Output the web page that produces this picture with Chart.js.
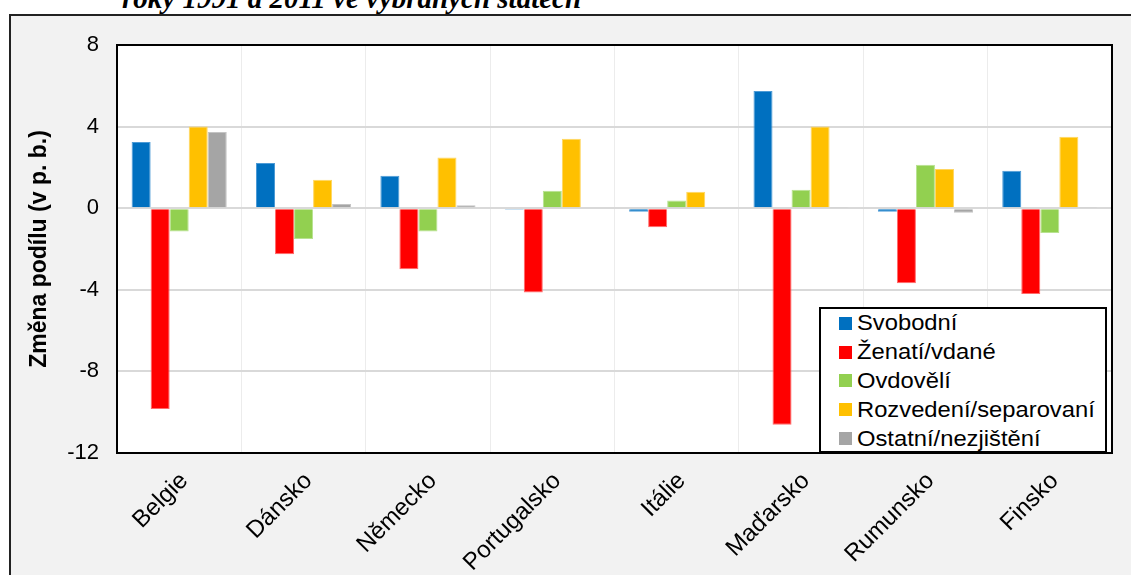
<!DOCTYPE html>
<html>
<head>
<meta charset="utf-8">
<script src="https://cdn.jsdelivr.net/npm/chart.js@4/dist/chart.umd.min.js"></script>
<style>
  body { margin: 0; background: #fff; overflow: hidden; width: 1131px; height: 575px; position: relative; font-family: Arial, "Liberation Sans", sans-serif; }
  #frame { position: absolute; left: 9px; top: 14px; width: 1300px; height: 800px; border: 2px solid #222; background: #f2f2f2; }
  #topTitle { position: absolute; left: 122px; top: -16px; font: italic bold 29px "Liberation Serif", "Times New Roman", serif; line-height: 29px; white-space: nowrap; color: #000; }
  #chartBox { position: absolute; left: 0; top: 0; width: 1131px; height: 575px; }
  #legend { position: absolute; left: 819px; top: 307px; width: 288px; height: 146px; box-sizing: border-box; border: 2px solid #000; background: #fff; padding: 0 0 0 18px; }
  .item { height: 28.8px; display: flex; align-items: center; font-size: 22px; color: #000; white-space: nowrap; }
  .sw { width: 13px; height: 13px; margin-right: 5px; flex: none; }
  .txt { display: inline-block; transform: scaleX(1.08); transform-origin: left center; }
</style>
</head>
<body>
<div id="frame"></div>
<div id="topTitle">roky 1991 a 2011 ve vybraných státech</div>
<div id="chartBox"><canvas id="graph" width="1131" height="575"></canvas></div>
<div id="legend"></div>
<script>
var countries = ["Belgie", "Dánsko", "Německo", "Portugalsko", "Itálie", "Maďarsko", "Rumunsko", "Finsko"];
var seriesNames = ["Svobodní", "Ženatí/vdané", "Ovdovělí", "Rozvedení/separovaní", "Ostatní/nezjištění"];
var svobodni = [3.25, 2.21, 1.59, -0.08, -0.18, 5.74, -0.18, 1.83];
var zenati = [-9.84, -2.26, -2.99, -4.13, -0.93, -10.62, -3.68, -4.2];
var ovdoveli = [-1.14, -1.51, -1.14, 0.86, 0.38, 0.91, 2.13, -1.21];
var rozvedeni = [4.0, 1.40, 2.49, 3.41, 0.81, 4.01, 1.92, 3.5];
var ostatni = [3.74, 0.21, 0.15, 0.0, 0.0, 0.03, -0.22, 0.06];
var yTicks = [8, 4, 0, -4, -8, -12];

var barColors = ["#0070c0", "#ff0000", "#92d050", "#ffc000", "#a5a5a5"];
var edgeColors = ["#4d9bd6", "#ff6b6b", "#b8e290", "#ffd660", "#c4c4c4"];
var allValues = [svobodni, zenati, ovdoveli, rozvedeni, ostatni];

// legend built from the series
var legendHtml = "";
for (let i = 0; i < seriesNames.length; i++) {
    legendHtml += '<div class="item"><span class="sw" style="background:' + barColors[i] + '"></span><span class="txt">' + seriesNames[i] + '</span></div>';
}
document.getElementById("legend").innerHTML = legendHtml;

var datasets = [];
for (let i = 0; i < seriesNames.length; i++) {
    datasets.push({
        label: seriesNames[i],
        data: allValues[i],
        backgroundColor: barColors[i],
        borderColor: edgeColors[i],
        borderWidth: 1,
        categoryPercentage: 0.765,
        barPercentage: 1.0
    });
}

// white plot area with black frame
var plotFrame = {
    id: "plotFrame",
    beforeDraw: function(chart) {
        var a = chart.chartArea, ctx = chart.ctx;
        ctx.save();
        ctx.fillStyle = "#fff";
        ctx.fillRect(a.left, a.top, a.right - a.left, a.bottom - a.top);
        ctx.restore();
    },
    afterDraw: function(chart) {
        var a = chart.chartArea, ctx = chart.ctx;
        ctx.save();
        ctx.strokeStyle = "#000";
        ctx.lineWidth = 2;
        ctx.strokeRect(a.left, a.top, a.right - a.left, a.bottom - a.top);
        ctx.restore();
    }
};

var elem = document.getElementById("graph").getContext("2d");
const newChart = new Chart(elem, {
    type: "bar",
    data: {
        labels: countries,
        datasets: datasets
    },
    options: {
        responsive: false,
        animation: false,
        devicePixelRatio: 1,
        layout: { padding: { top: 45, right: 19, left: 0, bottom: 0 } },
        plugins: {
            legend: { display: false },
            tooltip: { enabled: false }
        },
        scales: {
            x: {
                afterFit: function(s) { s.height = 122; },
                grid: { color: "#ececec", lineWidth: 1, drawTicks: false },
                border: { display: false },
                ticks: {
                    color: "#000",
                    font: { family: "Arial, 'Liberation Sans'", size: 24 },
                    maxRotation: 45,
                    minRotation: 45,
                    padding: 14,
                    labelOffset: 5
                }
            },
            y: {
                min: -12,
                max: 8,
                afterFit: function(s) { s.width = 117; },
                afterBuildTicks: function(s) { s.ticks = yTicks.map(function(v) { return { value: v }; }); },
                grid: { color: "#d9d9d9", lineWidth: 2, drawTicks: false },
                border: { display: false },
                ticks: {
                    color: "#000",
                    font: { family: "Arial, 'Liberation Sans'", size: 22 },
                    padding: 18
                },
                title: {
                    display: true,
                    text: "Změna podílu (v p. b.)",
                    color: "#000",
                    font: { family: "Arial, 'Liberation Sans'", size: 23, weight: "bold" },
                    padding: { top: 26, bottom: 0 }
                }
            }
        }
    },
    plugins: [plotFrame]
});
</script>
</body>
</html>
